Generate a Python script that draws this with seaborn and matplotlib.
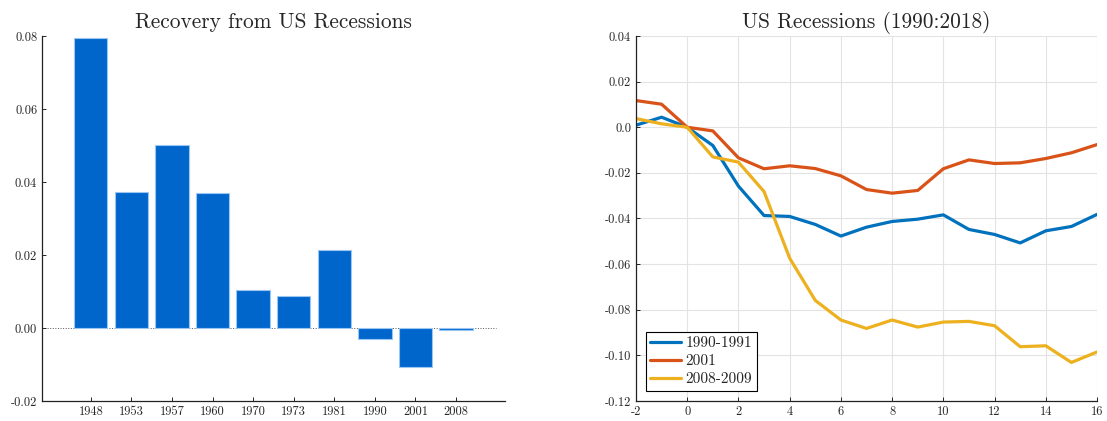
import numpy as np
import pandas as pd
import matplotlib
matplotlib.use("Agg")
import matplotlib.pyplot as plt
import seaborn as sns

# recovery data (left panel)
years = ["1948", "1953", "1957", "1960", "1970", "1973", "1981", "1990", "2001", "2008"]
recovery = [0.0795, 0.0372, 0.0501, 0.0370, 0.0104, 0.0088, 0.0214, -0.0030, -0.0106, -0.0005]

# quarters since trough (right panel)
quarters = list(range(-2, 17))
rec_1990 = [0.0009, 0.0044, 0.0, -0.0080, -0.0258, -0.0387, -0.0391, -0.0426, -0.0477, -0.0438,
            -0.0413, -0.0403, -0.0384, -0.0448, -0.0470, -0.0507, -0.0454, -0.0435, -0.0382]
rec_2001 = [0.0117, 0.0101, 0.0, -0.0016, -0.0134, -0.0182, -0.0169, -0.0181, -0.0213, -0.0273,
            -0.0289, -0.0277, -0.0182, -0.0143, -0.0159, -0.0156, -0.0137, -0.0112, -0.0076]
rec_2008 = [0.0038, 0.0015, 0.0, -0.0130, -0.0153, -0.0282, -0.0574, -0.0759, -0.0845, -0.0882,
            -0.0845, -0.0876, -0.0854, -0.0851, -0.0870, -0.0962, -0.0958, -0.1031, -0.0985]
series_names = ["1990-1991", "2001", "2008-2009"]
line_colors = ["#0072BD", "#D95319", "#EDB120"]

sns.set_style("ticks")
plt.rcParams["font.family"] = ["cmr10", "DejaVu Serif"]
plt.rcParams["axes.unicode_minus"] = False
plt.rcParams["mathtext.fontset"] = "cm"
plt.rcParams["axes.formatter.use_mathtext"] = True

fig = plt.figure(figsize=(11.07, 4.21), dpi=100)
ax1 = fig.add_axes([0.038, 0.0475, 0.418, 0.867])
ax2 = fig.add_axes([0.5745, 0.0475, 0.4165, 0.867])

# ---- left: bar chart
bar_df = pd.DataFrame({"year": years, "recovery": recovery})
sns.barplot(data=bar_df, x="year", y="recovery", color="#0066CC", saturation=1,
            width=0.82, edgecolor="#9cc6f2", linewidth=0.8, ax=ax1)
ax1.axhline(0, xmin=0, xmax=0.98, color="#555555", lw=0.7, ls=":", zorder=0)
ax1.set_xlim(-1.2, 10.2)
ax1.set_ylim(-0.02, 0.08)
yt = [-0.02, 0.0, 0.02, 0.04, 0.06, 0.08]
ax1.set_yticks(yt)
ax1.set_yticklabels(["-0.02", "0.00", "0.02", "0.04", "0.06", "0.08"])
ax1.set_xlabel("")
ax1.set_ylabel("")
ax1.set_title("Recovery from US Recessions", fontsize=15.4, pad=6)
sns.despine(ax=ax1)

# ---- right: line chart
line_df = pd.DataFrame({"q": quarters * 3,
                        "val": rec_1990 + rec_2001 + rec_2008,
                        "rec": [n for n in series_names for _ in quarters]})
sns.lineplot(data=line_df, x="q", y="val", hue="rec", palette=line_colors,
             linewidth=2.3, ax=ax2)
ax2.set_xlim(-2, 16)
ax2.set_ylim(-0.12, 0.04)
ax2.set_xticks(range(-2, 17, 2))
ax2.set_xticklabels([str(v) for v in range(-2, 17, 2)])
yt2 = [-0.12, -0.10, -0.08, -0.06, -0.04, -0.02, 0.0, 0.02, 0.04]
ax2.set_yticks(yt2)
ax2.set_yticklabels(["-0.12", "-0.10", "-0.08", "-0.06", "-0.04", "-0.02", "0.0", "0.02", "0.04"])
ax2.grid(True, color="#e3e3e3", lw=0.8)
ax2.set_axisbelow(True)
ax2.set_xlabel("")
ax2.set_ylabel("")
ax2.set_title("US Recessions (1990:2018)", fontsize=15.4, pad=6)
sns.despine(ax=ax2)
leg = ax2.legend(loc="lower left", fontsize=11, frameon=True, fancybox=False,
                 edgecolor="black", framealpha=1, handlelength=2.0,
                 borderaxespad=0.65, handletextpad=0.3, labelspacing=0.3,
                 borderpad=0.3)
leg.get_frame().set_linewidth(0.8)

for ax in (ax1, ax2):
    ax.tick_params(direction="in", labelsize=9, length=3, width=0.7)
    for s in ("left", "bottom"):
        ax.spines[s].set_color("#222222")
        ax.spines[s].set_linewidth(0.9)

fig.savefig("out.png", dpi=100)
